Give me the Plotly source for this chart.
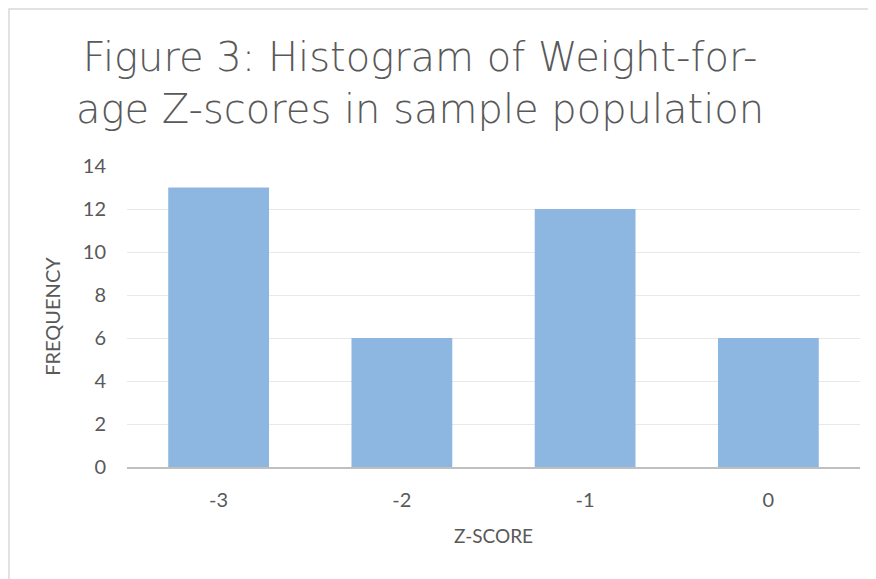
import plotly.graph_objects as go

categories = ["-3", "-2", "-1", "0"]
frequency = [13, 6, 12, 6]
y_ticks = [0, 2, 4, 6, 8, 10, 12, 14]
title_text = "Figure 3: Histogram of Weight-for-<br>age Z-scores in sample population"

# page body has an 8px margin, so the figure is drawn offset by 8px
OFF = 8
W, H = 876 - OFF, 579 - OFF
L, R, T, B = 127 - OFF, 16, 166 - OFF, 112
pw, ph = W - L - R, H - T - B

def px(x):
    return (x - OFF - L) / pw

def py(y):
    return (H - B - (y - OFF)) / ph

font_family = "Lato, Open Sans, sans-serif"
title_family = "DejaVu Sans, Lato, sans-serif"
grey = "#595959"

fig = go.Figure()
fig.add_trace(go.Bar(
    x=categories, y=frequency,
    marker=dict(color="#8DB7E1", line=dict(width=0)),
    width=0.55,
))

fig.update_layout(
    width=W, height=H,
    margin=dict(l=L, r=R, t=T, b=B),
    paper_bgcolor="white", plot_bgcolor="white",
    showlegend=False,
    annotations=[dict(
        text=title_text, xref="paper", yref="paper",
        x=px(420), y=py(83), xanchor="center", yanchor="middle",
        showarrow=False, align="center",
        font=dict(family=title_family, size=40, color=grey, weight=300),
    )],
    xaxis=dict(
        type="category", showgrid=False, ticks="", showline=True,
        linecolor="#BFBFBF", linewidth=2,
        tickfont=dict(family=font_family, size=20, color=grey),
        title=dict(text="Z-SCORE", font=dict(family=font_family, size=19, color=grey), standoff=20),
        range=[-0.5, 3.5],
        ticklabelstandoff=14,
    ),
    yaxis=dict(
        range=[0, 14], tickvals=y_ticks, showgrid=True, gridcolor="#E8E8E8", gridwidth=1,
        zeroline=False, showline=False, ticks="",
        tickfont=dict(family=font_family, size=20, color=grey),
        title=dict(text="FREQUENCY", font=dict(family=font_family, size=20, color=grey), standoff=16),
        ticklabelstandoff=20,
    ),
    shapes=[dict(
        type="rect", xref="paper", yref="paper",
        x0=px(9), x1=px(900), y0=py(600), y1=py(9),
        line=dict(color="#D9D9D9", width=1.5), fillcolor="rgba(0,0,0,0)", layer="below",
    )],
)

fig.write_html("out.html")
